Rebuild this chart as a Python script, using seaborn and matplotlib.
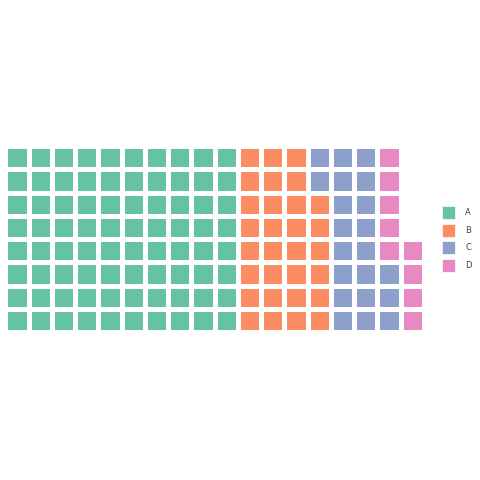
import matplotlib
matplotlib.use("Agg")
import matplotlib.pyplot as plt
from matplotlib.colors import ListedColormap
from matplotlib.patches import Patch
import numpy as np
import seaborn as sns

# waffle data
categories = ["A", "B", "C", "D"]
counts = [80, 30, 21, 9]
n_rows = 8

sns.set_theme(style="white")
colors = sns.color_palette("Set2", len(categories))

# fill the grid column by column, bottom to top
total = sum(counts)
n_cols = int(np.ceil(total / n_rows))
grid = np.full((n_rows, n_cols), np.nan)
k = 0
for i, c in enumerate(counts):
    for _ in range(c):
        col = k // n_rows
        row = n_rows - 1 - (k % n_rows)
        grid[row, col] = i
        k += 1

fig = plt.figure(figsize=(4.8, 4.8), dpi=100)
ax = fig.add_axes([0.0104, 0.308, 0.873, 0.3875])

sns.heatmap(grid, ax=ax, cmap=ListedColormap(colors), vmin=-0.5, vmax=len(categories) - 0.5,
            cbar=False, linewidths=2.5, linecolor="white", square=True,
            xticklabels=False, yticklabels=False)

# legend with small square handles
handles = [Patch(facecolor=colors[i], edgecolor="white", linewidth=0.5, label=cat)
           for i, cat in enumerate(categories)]
leg = fig.legend(handles=handles, loc="center left", bbox_to_anchor=(0.905, 0.502),
                 frameon=False, fontsize=6, handlelength=1.6, handleheight=2.0,
                 labelspacing=0.56, handletextpad=1.2)
for t in leg.get_texts():
    t.set_color("#444444")

fig.savefig("out.png", dpi=100)
